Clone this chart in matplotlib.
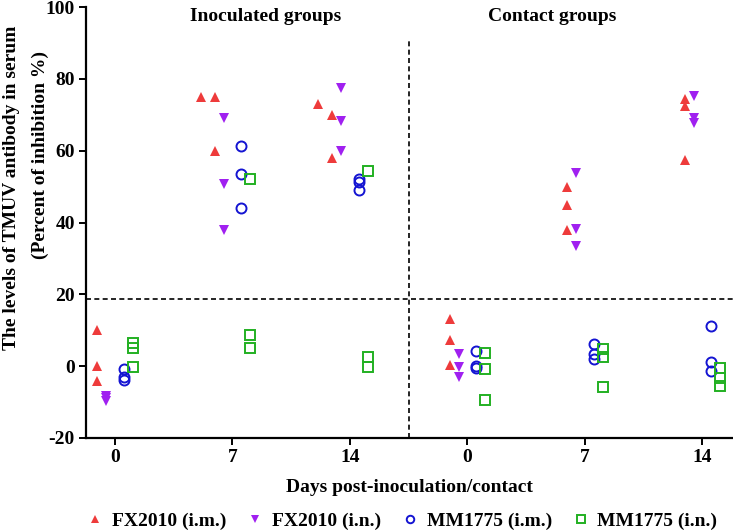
#!/usr/bin/env python3

import matplotlib

matplotlib.use("Agg")
import matplotlib.pyplot as plt


# six time points: inoculated 0/7/14, contact 0/7/14
DAY_LABELS = ["0", "7", "14", "0", "7", "14"]
PANEL_TITLES = ["Inoculated groups", "Contact groups"]
CUTOFF = 18.8

fx2010_im = [
    [10, 0, -4],
    [75, 75, 60],
    [73, 70, 58],
    [13, 7.3, 0.3],
    [49.8, 44.8, 38],
    [74.5, 72.5, 57.5],
]
fx2010_in = [
    [-8.2, -9.0, -9.7],
    [69, 50.6, 37.8],
    [77.6, 68.4, 60],
    [3.3, -0.1, -3.0],
    [53.8, 38.2, 33.4],
    [75.1, 69.1, 67.7],
]
mm1775_im = [
    [-0.8, -3.1, -3.8],
    [61.2, 53.6, 44.1],
    [52.1, 51.2, 49],
    [4.3, 0.1, -0.4],
    [6.1, 3.3, 1.9],
    [11.2, 1.2, -1.3],
]
mm1775_in = [
    [6.4, 5.0, -0.2],
    [52.1, 8.8, 5.0],
    [54.3, 2.6, -0.2],
    [3.6, -0.8, -9.4],
    [4.7, 2.6, -5.7],
    [-0.4, -3.4, -5.4],
]

SERIES = [
    ("FX2010 (i.m.)", fx2010_im, "^", "#EE3B3B", True, -0.15),
    ("FX2010 (i.n.)", fx2010_in, "v", "#A020F0", True, -0.075),
    ("MM1775 (i.m.)", mm1775_im, "o", "#1414D2", False, 0.075),
    ("MM1775 (i.n.)", mm1775_in, "s", "#22B022", False, 0.15),
]
# extra sideways shift for points that sit on top of each other
NUDGE = {("FX2010 (i.m.)", 1, 0): -0.115, ("FX2010 (i.m.)", 2, 0): -0.12}

FONT = "Liberation Serif"


def main() -> None:
    plt.rcParams["font.family"] = FONT
    plt.rcParams["font.weight"] = "bold"

    fig = plt.figure(figsize=(7.33, 5.32), dpi=100)
    ax = fig.add_axes([0.1173, 0.1767, 0.8827, 0.81])

    for name, values, marker, color, filled, off in SERIES:
        xs, ys = [], []
        for g, vals in enumerate(values):
            for i, v in enumerate(vals):
                xs.append(g + off + NUDGE.get((name, g, i), 0.0))
                ys.append(v)
        ax.plot(
            xs,
            ys,
            linestyle="none",
            marker=marker,
            markersize=7.8 if marker in "^v" else 7.2,
            markerfacecolor=color if filled else "none",
            markeredgecolor=color,
            markeredgewidth=0 if filled else 1.4,
            color=color,
            label=name,
            clip_on=False,
        )

    ax.axhline(CUTOFF, color="black", linestyle=(0, (3, 2)), linewidth=1.2)
    ax.plot([2.5, 2.5], [-20, 91.5], color="black", linestyle=(0, (3, 2)), linewidth=1.2)

    ax.text(1.28, 97.5, PANEL_TITLES[0], ha="center", va="center", fontsize=14, fontweight="bold")
    ax.text(3.72, 97.5, PANEL_TITLES[1], ha="center", va="center", fontsize=14, fontweight="bold")

    ax.set_xlim(-0.247, 5.26)
    ax.set_ylim(-20, 100)
    ax.set_xticks(range(len(DAY_LABELS)))
    ax.set_xticklabels(DAY_LABELS)
    ax.set_yticks([-20, 0, 20, 40, 60, 80, 100])
    ax.set_yticklabels(["-20", "0", "20", "40", "60", "80", "100"])

    for s in ("top", "right"):
        ax.spines[s].set_visible(False)
    for s in ("left", "bottom"):
        ax.spines[s].set_linewidth(1.6)
    ax.tick_params(axis="both", width=1.4, length=5, labelsize=14, pad=3)
    for lab in ax.get_xticklabels() + ax.get_yticklabels():
        lab.set_fontweight("bold")

    # two-line y label, each line placed as in the reference
    fig.text(12 / 733, 1 - 188 / 532, "The levels of TMUV antibody in serum", rotation=90,
             ha="center", va="center", fontsize=14, fontweight="bold")
    fig.text(40 / 733, 1 - 155 / 532, "(Percent of inhibition %)", rotation=90,
             ha="center", va="center", fontsize=14, fontweight="bold")

    fig.text(0.559, 0.083, "Days post-inoculation/contact", ha="center", va="center",
             fontsize=14, fontweight="bold")

    fig.legend(
        loc="center",
        bbox_to_anchor=(0.545, 0.021),
        ncol=4,
        frameon=False,
        fontsize=14,
        handletextpad=0.15,
        columnspacing=0.8,
        markerscale=0.75,
        handlelength=1.4,
    )

    fig.savefig("out.png", dpi=100)
    plt.close(fig)


if __name__ == "__main__":
    main()
